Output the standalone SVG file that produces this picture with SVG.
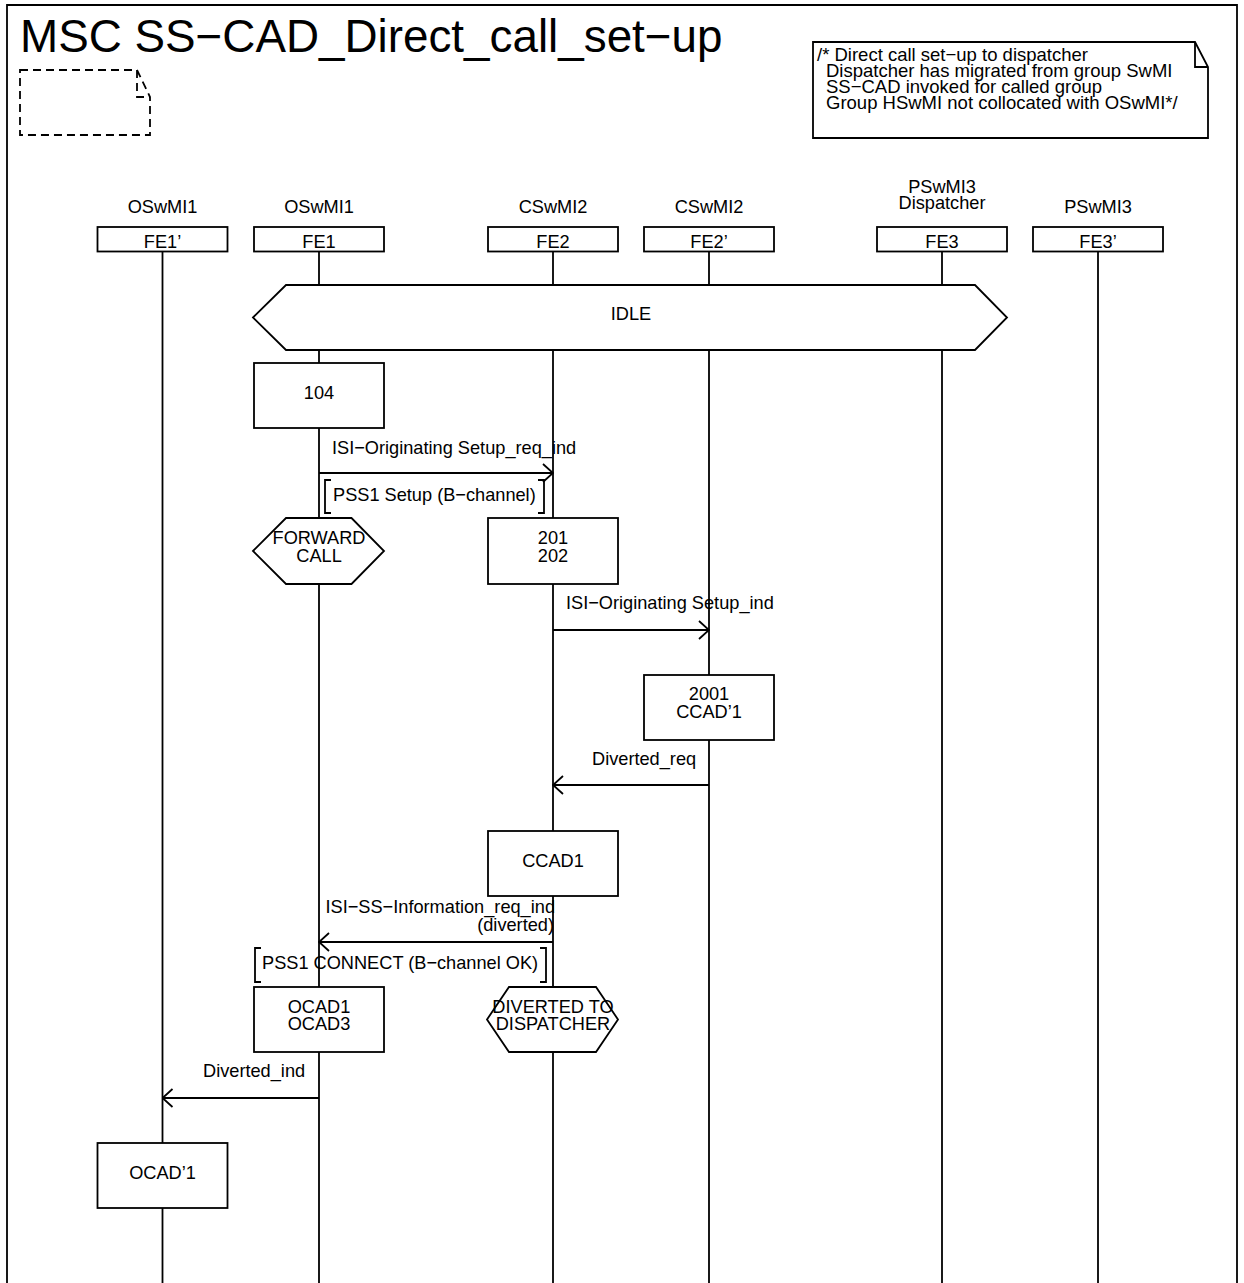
<svg xmlns="http://www.w3.org/2000/svg" width="1244" height="1283" viewBox="0 0 1244 1283">
<defs>
<style>
text{font-family:"Liberation Sans",Arial,Helvetica,sans-serif;font-size:18.2px;fill:#000}
.c{text-anchor:middle}
.e{text-anchor:end}
.cm{font-size:18.5px}
.s{fill:none;stroke:#000;stroke-width:1.8}
.b{fill:#fff;stroke:#000;stroke-width:1.8}
.ll{stroke:#000;stroke-width:1.8}
.m{fill:none;stroke:#000;stroke-width:1.8;marker-end:url(#arr)}
</style>
<marker id="arr" viewBox="0 0 12 20" refX="11" refY="10" markerWidth="12" markerHeight="20" markerUnits="userSpaceOnUse" orient="auto">
<path d="M1,1 L11,10 L1,19" fill="none" stroke="#000" stroke-width="1.8"/>
</marker>
</defs>
<rect width="1244" height="1283" fill="#fff"/>
<g id="frame">
<path class="s" d="M7,1283 V5 H1237 V1283"/>
<text x="20" y="52" style="font-size:45.8px">MSC SS−CAD_Direct_call_set−up</text>
<path class="s" stroke-dasharray="8,5" d="M20,70 H137 L150,97 V135 H20 Z M137,70 V97 H150"/>
</g>
<g id="comment">
<path class="b" d="M813,42 H1195 L1208,67 V138 H813 Z"/>
<path class="s" d="M1195,42 V67 H1208"/>
<text class="cm" x="817" y="61">/* Direct call set−up to dispatcher</text>
<text class="cm" x="826" y="77">Dispatcher has migrated from group SwMI</text>
<text class="cm" x="826" y="93">SS−CAD invoked for called group</text>
<text class="cm" x="826" y="109">Group HSwMI not collocated with OSwMI*/</text>
</g>
<g id="lifelines">
<line class="ll" x1="162.5" y1="252" x2="162.5" y2="1283"/>
<line class="ll" x1="319" y1="252" x2="319" y2="1283"/>
<line class="ll" x1="553" y1="252" x2="553" y2="1283"/>
<line class="ll" x1="709" y1="252" x2="709" y2="1283"/>
<line class="ll" x1="942" y1="252" x2="942" y2="1283"/>
<line class="ll" x1="1098" y1="252" x2="1098" y2="1283"/>
</g>
<g id="FE1p">
<text class="c" x="162.5" y="212.5">OSwMI1</text>
<rect class="b" x="97.5" y="227" width="130" height="24.5"/>
<text class="c" x="162.5" y="247.5">FE1’</text>
</g>
<g id="FE1">
<text class="c" x="319" y="212.5">OSwMI1</text>
<rect class="b" x="254" y="227" width="130" height="24.5"/>
<text class="c" x="319" y="247.5">FE1</text>
</g>
<g id="FE2">
<text class="c" x="553" y="212.5">CSwMI2</text>
<rect class="b" x="488" y="227" width="130" height="24.5"/>
<text class="c" x="553" y="247.5">FE2</text>
</g>
<g id="FE2p">
<text class="c" x="709" y="212.5">CSwMI2</text>
<rect class="b" x="644" y="227" width="130" height="24.5"/>
<text class="c" x="709" y="247.5">FE2’</text>
</g>
<g id="FE3">
<text class="c" x="942" y="192.5">PSwMI3</text>
<text class="c" x="942" y="209">Dispatcher</text>
<rect class="b" x="877" y="227" width="130" height="24.5"/>
<text class="c" x="942" y="247.5">FE3</text>
</g>
<g id="FE3p">
<text class="c" x="1098" y="212.5">PSwMI3</text>
<rect class="b" x="1033" y="227" width="130" height="24.5"/>
<text class="c" x="1098" y="247.5">FE3’</text>
</g>
<g id="idle">
<polygon class="b" points="253,317.5 286,285 975,285 1007,317.5 975,350 286,350"/>
<text class="c" x="631" y="320">IDLE</text>
</g>
<g id="t104">
<rect class="b" x="254" y="363" width="130" height="65"/>
<text class="c" x="319" y="398.5">104</text>
</g>
<g id="forward">
<polygon class="b" points="253,551 286,518 351.5,518 384,551 351.5,584 286,584"/>
<text class="c" x="319" y="543.5">FORWARD</text>
<text class="c" x="319" y="561.5">CALL</text>
</g>
<g id="t201">
<rect class="b" x="488" y="518" width="130" height="66"/>
<text class="c" x="553" y="543.5">201</text>
<text class="c" x="553" y="561.5">202</text>
</g>
<g id="t2001">
<rect class="b" x="644" y="675" width="130" height="65"/>
<text class="c" x="709" y="700">2001</text>
<text class="c" x="709" y="717.5">CCAD’1</text>
</g>
<g id="ccad1">
<rect class="b" x="488" y="831" width="130" height="65"/>
<text class="c" x="553" y="866.5">CCAD1</text>
</g>
<g id="ocad1">
<rect class="b" x="254" y="987" width="130" height="65"/>
<text class="c" x="319" y="1012.5">OCAD1</text>
<text class="c" x="319" y="1030">OCAD3</text>
</g>
<g id="diverted">
<polygon class="b" points="487,1019.5 509,987 596,987 618,1019.5 596,1052 509,1052"/>
<text class="c" x="553" y="1012.5">DIVERTED TO</text>
<text class="c" x="553" y="1030">DISPATCHER</text>
</g>
<g id="ocadp1">
<rect class="b" x="97.5" y="1143" width="130" height="65"/>
<text class="c" x="162.5" y="1178.5">OCAD’1</text>
</g>
<g id="connectors">
<line class="m" x1="319" y1="473" x2="553" y2="473"/>
<text x="332" y="454">ISI−Originating Setup_req_ind</text>
<path class="s" d="M331,480 H325 V513 H331 M538,480 H544 V513 H538"/>
<text x="333" y="500.5">PSS1 Setup (B−channel)</text>
<line class="m" x1="553" y1="630" x2="709" y2="630"/>
<text x="566" y="609">ISI−Originating Setup_ind</text>
<line class="m" x1="709" y1="785" x2="553" y2="785"/>
<text x="592" y="765">Diverted_req</text>
<line class="m" x1="553" y1="942" x2="319" y2="942"/>
<text class="e" x="555" y="913">ISI−SS−Information_req_ind</text>
<text class="e" x="554" y="930.5">(diverted)</text>
<path class="s" d="M261,948 H255 V982 H261 M540,948 H546 V982 H540"/>
<text x="262" y="968.5">PSS1 CONNECT (B−channel OK)</text>
<line class="m" x1="319" y1="1098" x2="162.5" y2="1098"/>
<text x="203" y="1076.5">Diverted_ind</text>
</g>
</svg>
